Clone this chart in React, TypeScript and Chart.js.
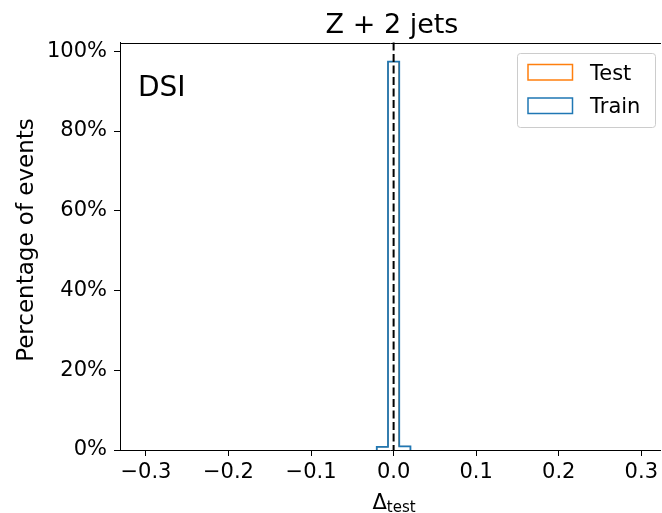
import React, { useEffect, useRef } from "react";
import { Chart, registerables } from "chart.js";

Chart.register(...registerables);

// ---- data ----
const binEdges = [-0.0204, -0.0068, 0.0068, 0.0204];
const trainValues = [0.8, 97.4, 0.9];
const testValues = [0.8, 97.4, 0.9];
const xTicks = [-0.3, -0.2, -0.1, 0.0, 0.1, 0.2, 0.3];
const yTicks = [0, 20, 40, 60, 80, 100];
const seriesNames = ["Test", "Train"];
const seriesColors = ["#ff7f0e", "#1f77b4"];
const titleText = "Z + 2 jets";
const annotationText = "DSI";
const yLabelText = "Percentage of events";
const xLabelMain = "Δ";
const xLabelSub = "test";
const xMin = -0.3314;
const xMax = 0.3238;
const yMin = 0;
const yMax = 102.2;
const vlineX = 0;

const FONT = "'DejaVu Sans', 'Liberation Sans', sans-serif";

function stepOutline(edges: number[], values: number[]) {
  const pts: { x: number; y: number }[] = [];
  pts.push({ x: edges[0], y: 0 });
  for (let i = 0; i < values.length; i++) {
    pts.push({ x: edges[i], y: values[i] });
    pts.push({ x: edges[i + 1], y: values[i] });
  }
  pts.push({ x: edges[edges.length - 1], y: 0 });
  return pts;
}

function fmtX(v: number) {
  const s = Math.abs(v) < 1e-9 ? "0.0" : v.toFixed(1);
  return s.replace("-", "\u2212");
}

const decorPlugin = {
  id: "decor",
  afterDatasetsDraw(chart: any) {
    const { ctx, chartArea, scales } = chart;
    const x0 = scales.x.getPixelForValue(vlineX);
    ctx.save();
    // dashed vertical line
    ctx.strokeStyle = "#000";
    ctx.lineWidth = 2;
    ctx.setLineDash([8, 3.5]);
    ctx.beginPath();
    ctx.moveTo(x0, chartArea.top);
    ctx.lineTo(x0, chartArea.bottom);
    ctx.stroke();
    ctx.setLineDash([]);
    // top spine
    ctx.lineWidth = 1;
    const ty = Math.round(chartArea.top) + 0.5;
    ctx.beginPath();
    ctx.moveTo(chartArea.left, ty);
    ctx.lineTo(chartArea.right, ty);
    ctx.stroke();
    ctx.restore();
  },
  afterDraw(chart: any) {
    const { ctx } = chart;
    ctx.save();
    ctx.fillStyle = "#000";
    // title
    ctx.font = `27px ${FONT}`;
    ctx.textAlign = "center";
    ctx.textBaseline = "alphabetic";
    ctx.fillText(titleText, 392, 33);
    // annotation
    ctx.font = `28px ${FONT}`;
    ctx.textAlign = "left";
    ctx.fillText(annotationText, 138, 96);
    // y label
    ctx.save();
    ctx.translate(33, 240);
    ctx.rotate(-Math.PI / 2);
    ctx.font = `23px ${FONT}`;
    ctx.textAlign = "center";
    ctx.fillText(yLabelText, 0, 0);
    ctx.restore();
    // x label with subscript
    ctx.font = `21px ${FONT}`;
    const wMain = ctx.measureText(xLabelMain).width;
    ctx.font = `15px ${FONT}`;
    const wSub = ctx.measureText(xLabelSub).width;
    const total = wMain + wSub;
    const startX = 394 - total / 2;
    ctx.textAlign = "left";
    ctx.font = `21px ${FONT}`;
    ctx.fillText(xLabelMain, startX, 509);
    ctx.font = `15px ${FONT}`;
    ctx.fillText(xLabelSub, startX + wMain, 512);
    // legend
    const lx = 517.5, ly = 53.5, lw = 138, lh = 74;
    ctx.fillStyle = "rgba(255,255,255,0.8)";
    ctx.strokeStyle = "#cccccc";
    ctx.lineWidth = 1;
    ctx.beginPath();
    ctx.roundRect(lx, ly, lw, lh, 3);
    ctx.fill();
    ctx.stroke();
    const rows = [72, 105.5];
    ctx.font = `21px ${FONT}`;
    for (let i = 0; i < seriesNames.length; i++) {
      const cy = rows[i];
      ctx.strokeStyle = seriesColors[i];
      ctx.lineWidth = 1.5;
      ctx.strokeRect(528, cy - 7.5, 44.5, 15.5);
      ctx.fillStyle = "#000";
      ctx.textBaseline = "alphabetic";
      ctx.fillText(seriesNames[i], 590, cy + 7.5);
    }
    ctx.restore();
  },
};

export default function App() {
  const ref = useRef<HTMLCanvasElement | null>(null);
  useEffect(() => {
    if (!ref.current) return;
    const chart = new Chart(ref.current, {
      type: "line",
      data: {
        datasets: [
          {
            label: seriesNames[1],
            data: stepOutline(binEdges, trainValues),
            borderColor: seriesColors[1],
            borderWidth: 1.8,
            pointRadius: 0,
            fill: false,
            tension: 0,
            order: 1,
          },
          {
            label: seriesNames[0],
            data: stepOutline(binEdges, testValues),
            borderColor: seriesColors[0],
            borderWidth: 1,
            pointRadius: 0,
            fill: false,
            tension: 0,
            order: 2,
          },
        ],
      },
      options: {
        responsive: false,
        animation: false,
        devicePixelRatio: 1,
        layout: { padding: { top: 42.5, right: 0, left: 0, bottom: 0 } },
        plugins: {
          legend: { display: false },
          title: { display: false },
          tooltip: { enabled: false },
        },
        scales: {
          x: {
            type: "linear",
            min: xMin,
            max: xMax,
            afterBuildTicks: (s: any) => {
              s.ticks = xTicks.map((v) => ({ value: v }));
            },
            afterFit: (s: any) => {
              s.height = 63;
            },
            grid: {
              display: true,
              drawOnChartArea: false,
              drawTicks: true,
              tickLength: 6,
              tickColor: "#000",
              tickWidth: 1,
            },
            border: { display: true, color: "#000", width: 1 },
            ticks: {
              color: "#000",
              font: { family: FONT, size: 21 },
              padding: 4,
              maxRotation: 0,
              autoSkip: false,
              callback: (v: any) => fmtX(Number(v)),
            },
          },
          y: {
            type: "linear",
            min: yMin,
            max: yMax,
            afterBuildTicks: (s: any) => {
              s.ticks = yTicks.map((v) => ({ value: v }));
            },
            afterFit: (s: any) => {
              s.width = 120;
            },
            grid: {
              display: true,
              drawOnChartArea: false,
              drawTicks: true,
              tickLength: 6,
              tickColor: "#000",
              tickWidth: 1,
            },
            border: { display: true, color: "#000", width: 1 },
            ticks: {
              color: "#000",
              font: { family: FONT, size: 21 },
              padding: 7,
              autoSkip: false,
              callback: (v: any) => `${v}%`,
            },
          },
        },
      },
      plugins: [decorPlugin],
    });
    return () => chart.destroy();
  }, []);
  return (
    <div style={{ position: "absolute", left: 0, top: 0, width: 662, height: 513, background: "#fff" }}>
      <canvas ref={ref} width={662} height={513} />
    </div>
  );
}
